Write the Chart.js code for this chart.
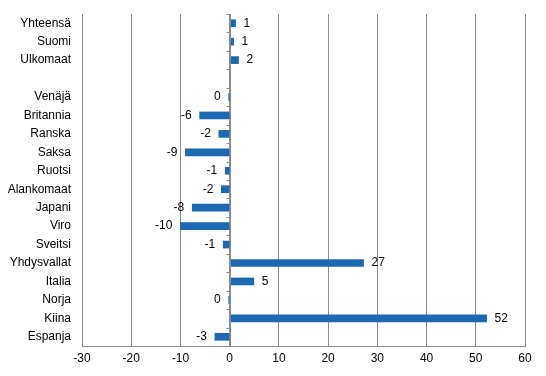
<!DOCTYPE html>
<html>
<head>
<meta charset="utf-8">
<script src="https://cdn.jsdelivr.net/npm/chart.js@4/dist/chart.umd.min.js"></script>
<style>
  html, body { margin: 0; padding: 0; background: #fff; }
  #wrap { width: 546px; height: 376px; }
</style>
</head>
<body>
<div id="wrap"><canvas id="chart"></canvas></div>
<script>
// categories top to bottom, the empty one is the gap row
var categories = ['Yhteensä', 'Suomi', 'Ulkomaat', '', 'Venäjä', 'Britannia', 'Ranska', 'Saksa',
  'Ruotsi', 'Alankomaat', 'Japani', 'Viro', 'Sveitsi', 'Yhdysvallat', 'Italia', 'Norja', 'Kiina', 'Espanja'];
// change
var values = [1.2, 0.8, 1.8, null, -0.2, -6.1, -2.2, -9.0, -0.9, -1.7, -7.6, -10.0, -1.3, 27.2, 4.9, -0.2, 52.2, -3.0];
var xMin = -30, xMax = 60, xStep = 10;

var gridGray = '#8c8c8c';
Chart.defaults.font.family = '"Liberation Sans", Arial, sans-serif';
Chart.defaults.font.size = 12;
Chart.defaults.color = '#000';

// small tick marks on the zero line, between categories
var zeroTicks = {
  id: 'zeroTicks',
  afterDatasetsDraw: function(chart) {
    var ctx = chart.ctx, x = chart.scales.x, y = chart.scales.y;
    var x0 = Math.round(x.getPixelForValue(0)) + 0.5;
    ctx.save();
    ctx.strokeStyle = gridGray;
    ctx.lineWidth = 1;
    ctx.beginPath();
    ctx.moveTo(x0, chart.chartArea.top);
    ctx.lineTo(x0, chart.chartArea.bottom);
    for (var i = 0; i <= categories.length; i++) {
      var py = Math.round(y.getPixelForValue(i - 0.5)) + 0.5;
      ctx.moveTo(x0 - 4, py);
      ctx.lineTo(x0, py);
    }
    ctx.stroke();
    ctx.restore();
  }
};

// value labels at the bar ends
var barLabels = {
  id: 'barLabels',
  afterDatasetsDraw: function(chart) {
    var ctx = chart.ctx;
    var meta = chart.getDatasetMeta(0);
    ctx.save();
    ctx.font = '12px "Liberation Sans", Arial, sans-serif';
    ctx.fillStyle = '#000';
    ctx.textBaseline = 'middle';
    meta.data.forEach(function(el, i) {
      var v = values[i];
      if (v === null) return;
      var txt = String(Math.round(v));
      if (v >= 0) {
        ctx.textAlign = 'left';
        ctx.fillText(txt, el.x + 8, el.y);
      } else {
        ctx.textAlign = 'right';
        ctx.fillText(txt, Math.min(el.x, el.base) - 8, el.y);
      }
    });
    ctx.restore();
  }
};

new Chart(document.getElementById('chart').getContext('2d'), {
  type: 'bar',
  data: {
    labels: categories,
    datasets: [{
      data: values,
      backgroundColor: '#1c68b2',
      borderWidth: 0,
      barThickness: 7
    }]
  },
  options: {
    indexAxis: 'y',
    responsive: true,
    maintainAspectRatio: false,
    animation: false,
    layout: { padding: { top: 14, right: 21, bottom: 0, left: 0 } },
    plugins: { legend: { display: false }, tooltip: { enabled: false } },
    scales: {
      x: {
        min: xMin,
        max: xMax,
        ticks: { stepSize: xStep, padding: 5 },
        grid: { color: gridGray, drawTicks: false },
        border: { color: gridGray },
        afterFit: function(s) { s.height = 30; }
      },
      y: {
        grid: { display: false },
        border: { display: false },
        ticks: { padding: 3, autoSkip: false },
        afterFit: function(s) { s.width = 82; }
      }
    }
  },
  plugins: [zeroTicks, barLabels]
});
</script>
</body>
</html>
